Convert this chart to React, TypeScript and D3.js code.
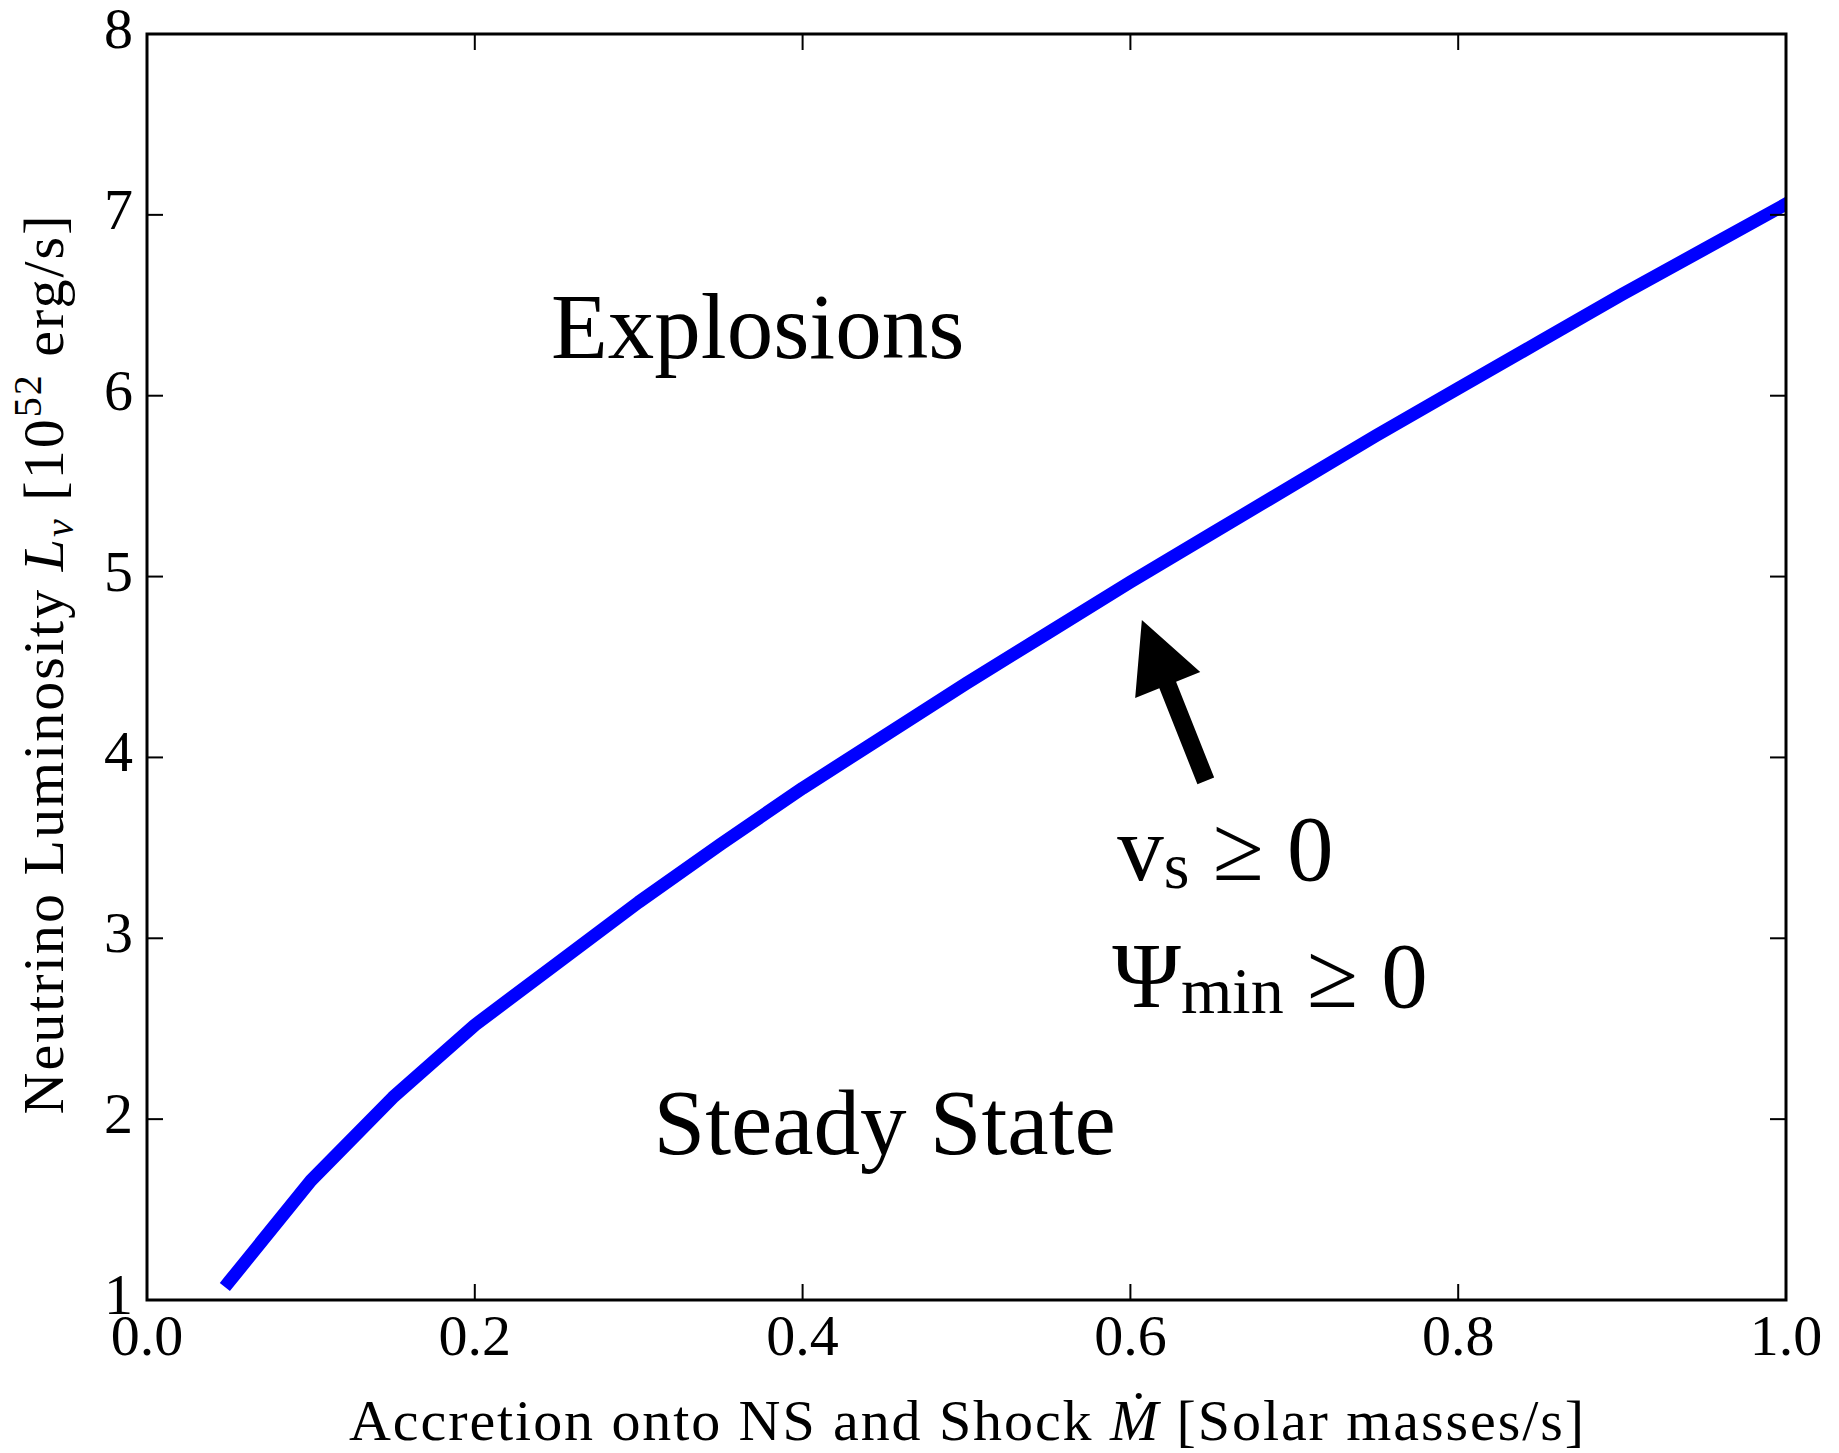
import React from 'react';
import * as d3 from 'd3';

// Critical neutrino luminosity curve vs. accretion rate
const mdot = [0.05, 0.10, 0.15, 0.20, 0.25, 0.30, 0.35, 0.40, 0.45, 0.50, 0.55, 0.60, 0.65, 0.70, 0.75, 0.80, 0.85, 0.90, 0.95, 1.00];
const lnu = [1.10, 1.66, 2.12, 2.52, 2.86, 3.20, 3.52, 3.83, 4.12, 4.41, 4.69, 4.97, 5.24, 5.51, 5.78, 6.04, 6.30, 6.56, 6.81, 7.06];

const xTicks = [0, 0.2, 0.4, 0.6, 0.8, 1.0];
const xTickLabels = ['0.0', '0.2', '0.4', '0.6', '0.8', '1.0'];
const yTicks = [1, 2, 3, 4, 5, 6, 7, 8];
const yTickLabels = ['1', '2', '3', '4', '5', '6', '7', '8'];

// Arrow from the condition label up to the curve (data coordinates)
const arrowTail = [0.646, 3.87];
const arrowTip = [0.607, 4.76];

const W = 1839;
const H = 1453;
const plot = { left: 147, right: 1786, top: 34, bottom: 1300 };

const serif = '"Liberation Serif", "Times New Roman", serif';

export default function App() {
  const x = d3.scaleLinear().domain([0, 1]).range([plot.left, plot.right]);
  const y = d3.scaleLinear().domain([1, 8]).range([plot.bottom, plot.top]);

  const pts: [number, number][] = mdot.map((m, i) => [m, lnu[i]]);
  const linePath = d3
    .line<[number, number]>()
    .x((d) => x(d[0]))
    .y((d) => y(d[1]))(pts) as string;

  // arrow polygon
  const tx = x(arrowTail[0]);
  const ty = y(arrowTail[1]);
  const hx = x(arrowTip[0]);
  const hy = y(arrowTip[1]);
  const len = Math.hypot(hx - tx, hy - ty);
  const ux = (hx - tx) / len;
  const uy = (hy - ty) / len;
  const nx = -uy;
  const ny = ux;
  const shaftHalf = 9;
  const headHalf = 35;
  const headLen = 70;
  const bx = hx - ux * headLen;
  const by = hy - uy * headLen;
  const arrowPts = [
    [tx + nx * shaftHalf, ty + ny * shaftHalf],
    [bx + nx * shaftHalf, by + ny * shaftHalf],
    [bx + nx * headHalf, by + ny * headHalf],
    [hx, hy],
    [bx - nx * headHalf, by - ny * headHalf],
    [bx - nx * shaftHalf, by - ny * shaftHalf],
    [tx - nx * shaftHalf, ty - ny * shaftHalf],
  ]
    .map((p) => p.join(','))
    .join(' ');

  const tickLen = 16;
  const tickColor = '#000';

  return (
    <svg
      width={W}
      height={H}
      viewBox={`0 0 ${W} ${H}`}
      style={{ position: 'absolute', left: 0, top: 0, background: '#fff' }}
    >
      <defs>
        <clipPath id="plot-clip">
          <rect x={plot.left} y={plot.top} width={plot.right - plot.left} height={plot.bottom - plot.top} />
        </clipPath>
      </defs>
      <rect x={0} y={0} width={W} height={H} fill="#fff" />

      {/* curve */}
      <path
        d={linePath}
        fill="none"
        stroke="#0000ff"
        strokeWidth={13}
        strokeLinejoin="round"
        strokeLinecap="square"
        clipPath="url(#plot-clip)"
      />

      {/* ticks on all four sides, pointing inward */}
      {xTicks.map((t) => (
        <g key={`xt${t}`}>
          <line x1={x(t)} x2={x(t)} y1={plot.bottom} y2={plot.bottom - tickLen} stroke={tickColor} strokeWidth={2} />
          <line x1={x(t)} x2={x(t)} y1={plot.top} y2={plot.top + tickLen} stroke={tickColor} strokeWidth={2} />
        </g>
      ))}
      {yTicks.map((t) => (
        <g key={`yt${t}`}>
          <line x1={plot.left} x2={plot.left + tickLen} y1={y(t)} y2={y(t)} stroke={tickColor} strokeWidth={2} />
          <line x1={plot.right} x2={plot.right - tickLen} y1={y(t)} y2={y(t)} stroke={tickColor} strokeWidth={2} />
        </g>
      ))}

      {/* frame */}
      <rect
        x={plot.left}
        y={plot.top}
        width={plot.right - plot.left}
        height={plot.bottom - plot.top}
        fill="none"
        stroke="#000"
        strokeWidth={3}
      />

      {/* tick labels */}
      {xTicks.map((t, i) => (
        <text key={`xl${t}`} x={x(t)} y={1355} textAnchor="middle" fontFamily={serif} fontSize={58} fill="#000">
          {xTickLabels[i]}
        </text>
      ))}
      {yTicks.map((t, i) => (
        <text key={`yl${t}`} x={133} y={y(t) + 14} textAnchor="end" fontFamily={serif} fontSize={58} fill="#000">
          {yTickLabels[i]}
        </text>
      ))}

      {/* axis labels */}
      <text
        x={(plot.left + plot.right) / 2}
        y={1440}
        textAnchor="middle"
        fontFamily={serif}
        fontSize={58}
        fill="#000"
        textLength={1235}
      >
        Accretion onto NS and Shock <tspan fontStyle="italic">{'\u1E40'}</tspan> [Solar masses/s]
      </text>
      <text
        transform={`translate(63, ${(plot.top + plot.bottom) / 2 - 2}) rotate(-90)`}
        textAnchor="middle"
        fontFamily={serif}
        fontSize={58}
        fill="#000"
        textLength={899}
      >
        Neutrino Luminosity <tspan fontStyle="italic">L</tspan>
        <tspan fontStyle="italic" fontSize={40} dy={10}>
          {'\u03BD'}
        </tspan>
        <tspan dy={-10}> [10</tspan>
        <tspan fontSize={40} dy={-22}>
          52
        </tspan>
        <tspan dy={22}> erg/s]</tspan>
      </text>

      {/* region annotations */}
      <text x={x(0.2465)} y={y(6.207)} fontFamily={serif} fontSize={93} fill="#000">
        Explosions
      </text>
      <text x={x(0.309)} y={y(1.81)} fontFamily={serif} fontSize={93} fill="#000">
        Steady State
      </text>
      <text x={x(0.592)} y={y(3.32)} fontFamily={serif} fontSize={93} fill="#000">
        v<tspan fontSize={66} dy={8}>s</tspan>
        <tspan dy={-8}> ≥ 0</tspan>
      </text>
      <text x={x(0.589)} y={y(2.62)} fontFamily={serif} fontSize={93} fill="#000">
        {'\u03A8'}
        <tspan fontSize={66} dy={6}>min</tspan>
        <tspan dy={-6}> ≥ 0</tspan>
      </text>

      <polygon points={arrowPts} fill="#000" />
    </svg>
  );
}
